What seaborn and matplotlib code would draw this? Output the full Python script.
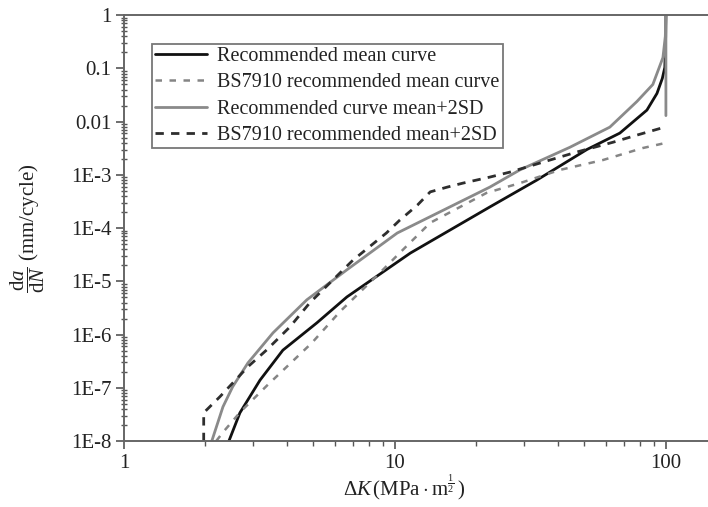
import numpy as np
import pandas as pd
import matplotlib
matplotlib.use("Agg")
import matplotlib.pyplot as plt
from matplotlib.ticker import LogLocator, NullFormatter
import seaborn as sns

# Crack growth rate curves: da/dN against stress intensity range dK
mean_dk = [2.44, 2.68, 3.18, 3.86, 5.15, 6.65, 11.4, 22.4, 33.4, 51.1, 67.6, 85.1, 92.7, 97.0, 99.1, 99.8, 100.0]
mean_rate = [1e-8, 3.4e-8, 1.4e-7, 5.1e-7, 1.66e-6, 5.1e-6, 3.4e-5, 2.5e-4, 8e-4, 3e-3, 6.1e-3, 1.65e-2, 3.4e-2, 6.5e-2, 0.105, 0.4, 1.0]

bs_mean_dk = [2.19, 2.33, 2.7, 3.37, 4.94, 6.27, 9.03, 10.4, 13.5, 21.8, 28.9, 40.6, 58.5, 82.2, 100.0]
bs_mean_rate = [1e-8, 1.5e-8, 3.6e-8, 1.1e-7, 7e-7, 2.7e-6, 1.65e-5, 3.4e-5, 1.26e-4, 4.6e-4, 7e-4, 1.24e-3, 1.9e-3, 3.2e-3, 4e-3]

sd_dk = [2.11, 2.32, 2.52, 2.87, 3.55, 4.73, 6.65, 10.2, 22.4, 28.9, 44.2, 62.1, 78.2, 89.5, 97.5, 99.5, 100.0, 100.0]
sd_rate = [1e-8, 4.4e-8, 1.05e-7, 2.95e-7, 1.08e-6, 4.5e-6, 1.65e-5, 8.1e-5, 5.9e-4, 1.24e-3, 3.3e-3, 7.9e-3, 0.024, 0.05, 0.16, 0.4, 1.0, 0.013]

bs_sd_dk = [1.97, 1.97, 2.26, 2.87, 3.37, 4.10, 4.86, 7.0, 9.3, 10.4, 12.1, 13.5, 15.6, 17.8, 22.4, 26.6, 35.2, 47.0, 63.7, 78.2, 99.0]
bs_sd_rate = [1e-8, 3.4e-8, 6.8e-8, 2.5e-7, 5.2e-7, 1.4e-6, 4e-6, 2.5e-5, 8.1e-5, 1.4e-4, 2.7e-4, 4.8e-4, 5.9e-4, 7.0e-4, 9.1e-4, 1.13e-3, 1.74e-3, 2.7e-3, 4.1e-3, 5.6e-3, 7.9e-3]

series_names = ["Recommended mean curve",
                "BS7910 recommended mean curve",
                "Recommended curve mean+2SD",
                "BS7910 recommended mean+2SD"]

xticks = [1, 10, 100]
xtick_labels = ["1", "10", "100"]
yticks = [1, 0.1, 0.01, 1e-3, 1e-4, 1e-5, 1e-6, 1e-7, 1e-8]
ytick_labels = ["1", "0.1", "0.01", "1E-3", "1E-4", "1E-5", "1E-6", "1E-7", "1E-8"]

sns.set_style("ticks")
plt.rcParams["font.family"] = ["Liberation Serif", "DejaVu Serif"]
plt.rcParams["mathtext.fontset"] = "custom"
plt.rcParams["mathtext.rm"] = "Liberation Serif"
plt.rcParams["mathtext.it"] = "Liberation Serif:italic"
plt.rcParams["mathtext.bf"] = "Liberation Serif:bold"

fig = plt.figure(figsize=(7.08, 5.07), dpi=100)
ax = fig.add_axes([0.175, 0.130, 0.825, 0.840])

styles = [
    dict(color="#111111", lw=2.0, linestyle="-"),
    dict(color="#858585", lw=1.8, linestyle=(0, (2.6, 3.0))),
    dict(color="#8a8a8a", lw=2.0, linestyle="-"),
    dict(color="#2e2e2e", lw=2.0, linestyle=(0, (3.0, 2.6))),
]
data = [(mean_dk, mean_rate), (bs_mean_dk, bs_mean_rate), (sd_dk, sd_rate), (bs_sd_dk, bs_sd_rate)]

for name, (xs, ys), st in zip(series_names, data, styles):
    df = pd.DataFrame({"dK": xs, "rate": ys})
    sns.lineplot(data=df, x="dK", y="rate", sort=False, estimator=None,
                 ax=ax, label=name, **st)

ax.set_xscale("log")
ax.set_yscale("log")
ax.set_xlim(1, 143)
ax.set_ylim(1e-8, 1)

ax.set_xticks(xticks, labels=xtick_labels)
ax.set_yticks(yticks, labels=ytick_labels)
ax.xaxis.set_minor_locator(LogLocator(base=10, subs=np.arange(2, 10)))
ax.yaxis.set_minor_locator(LogLocator(base=10, subs=np.arange(2, 10), numticks=20))
ax.xaxis.set_minor_formatter(NullFormatter())
ax.yaxis.set_minor_formatter(NullFormatter())

ax.tick_params(axis="both", which="major", direction="out", length=6, width=1.2,
               colors="#555555", labelcolor="#222222", labelsize=15, pad=3)
ax.tick_params(axis="both", which="minor", direction="out", length=3.5, width=1.0,
               colors="#555555")
ax.tick_params(axis="y", which="minor", direction="inout", length=4)

for side in ["left", "bottom", "top"]:
    ax.spines[side].set_visible(True)
    ax.spines[side].set_color("#666666")
    ax.spines[side].set_linewidth(1.4)
ax.spines["right"].set_visible(False)

ax.set_xlabel(r"$\Delta K\,(\mathrm{MPa\cdot m}^{\frac{1}{2}}\,)$", fontsize=15, color="#222222")
ax.xaxis.set_label_coords(0.48, -0.075)
ax.set_ylabel(r"$\dfrac{\mathrm{d}a}{\mathrm{d}N}$ (mm/cycle)", fontsize=15, color="#222222")
ax.yaxis.set_label_coords(-0.132, 0.5)

leg = ax.legend(loc="upper left", bbox_to_anchor=(0.048, 0.932), borderaxespad=0,
                frameon=True, fancybox=False, fontsize=14.5, handlelength=2.6,
                handletextpad=0.5, labelspacing=0.35, borderpad=0.15)
leg.get_frame().set_edgecolor("#555555")
leg.get_frame().set_linewidth(1.3)
for t in leg.get_texts():
    t.set_color("#222222")

fig.savefig("out.png", dpi=100)
